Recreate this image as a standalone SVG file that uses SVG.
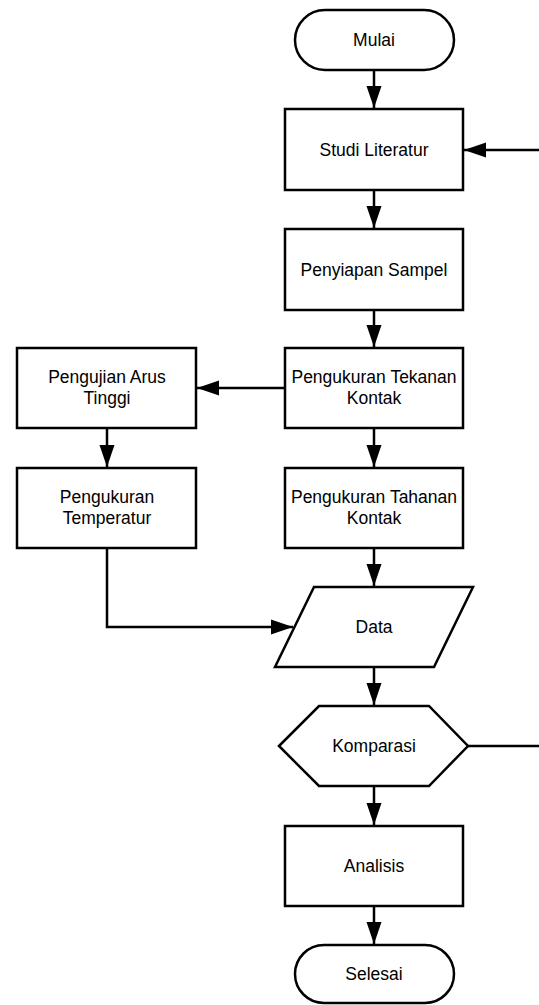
<svg xmlns="http://www.w3.org/2000/svg" width="539" height="1005" viewBox="0 0 539 1005">
<defs>
<style>
.s{fill:#fff;stroke:#000;stroke-width:2.5}
.c{fill:none;stroke:#000;stroke-width:2.5}
.t{font-family:"Liberation Sans",Arial,sans-serif;font-size:17.5px;fill:#000;text-anchor:middle}
</style>
<marker id="a" markerUnits="userSpaceOnUse" markerWidth="24" markerHeight="18" refX="22" refY="9" orient="auto">
<path d="M0,1.5 L22,9 L0,16.5 Z" fill="#000"/>
</marker>
</defs>
<rect width="539" height="1005" fill="#fff"/>
<g id="connectors">
<path class="c" d="M374,70 V108" marker-end="url(#a)"/>
<path class="c" d="M374,190 V228" marker-end="url(#a)"/>
<path class="c" d="M374,310 V347" marker-end="url(#a)"/>
<path class="c" d="M374,428 V467" marker-end="url(#a)"/>
<path class="c" d="M374,548 V586" marker-end="url(#a)"/>
<path class="c" d="M374,667 V705" marker-end="url(#a)"/>
<path class="c" d="M374,786 V825" marker-end="url(#a)"/>
<path class="c" d="M374,906 V944" marker-end="url(#a)"/>
<path class="c" d="M285,388 H197" marker-end="url(#a)"/>
<path class="c" d="M107,428 V467" marker-end="url(#a)"/>
<path class="c" d="M107,548 V627 H293" marker-end="url(#a)"/>
<path class="c" d="M468,746 H541 V150 H464" marker-end="url(#a)"/>
</g>
<g id="mulai"><rect class="s" x="295" y="10" width="159" height="60" rx="30"/><text class="t" x="374" y="46">Mulai</text></g>
<g id="studi"><rect class="s" x="285" y="109" width="178" height="81"/><text class="t" x="374" y="156">Studi Literatur</text></g>
<g id="penyiapan"><rect class="s" x="285" y="229" width="178" height="81"/><text class="t" x="374" y="276">Penyiapan Sampel</text></g>
<g id="tekanan"><rect class="s" x="285" y="348" width="178" height="80"/><text class="t" x="374" y="383">Pengukuran Tekanan</text><text class="t" x="374" y="404">Kontak</text></g>
<g id="arus"><rect class="s" x="17" y="348" width="179" height="80"/><text class="t" x="107" y="383">Pengujian Arus</text><text class="t" x="107" y="404">Tinggi</text></g>
<g id="temperatur"><rect class="s" x="17" y="468" width="179" height="80"/><text class="t" x="107" y="503">Pengukuran</text><text class="t" x="107" y="524">Temperatur</text></g>
<g id="tahanan"><rect class="s" x="285" y="468" width="178" height="80"/><text class="t" x="374" y="503">Pengukuran Tahanan</text><text class="t" x="374" y="524">Kontak</text></g>
<g id="data"><polygon class="s" points="314,587 473,587 434,667 275,667"/><text class="t" x="374" y="633">Data</text></g>
<g id="komparasi"><polygon class="s" points="279,746 319,706 429,706 468,746 429,786 319,786"/><text class="t" x="374" y="752">Komparasi</text></g>
<g id="analisis"><rect class="s" x="285" y="826" width="178" height="80"/><text class="t" x="374" y="872">Analisis</text></g>
<g id="selesai"><rect class="s" x="295" y="945" width="159" height="58" rx="29"/><text class="t" x="374" y="980">Selesai</text></g>
</svg>
